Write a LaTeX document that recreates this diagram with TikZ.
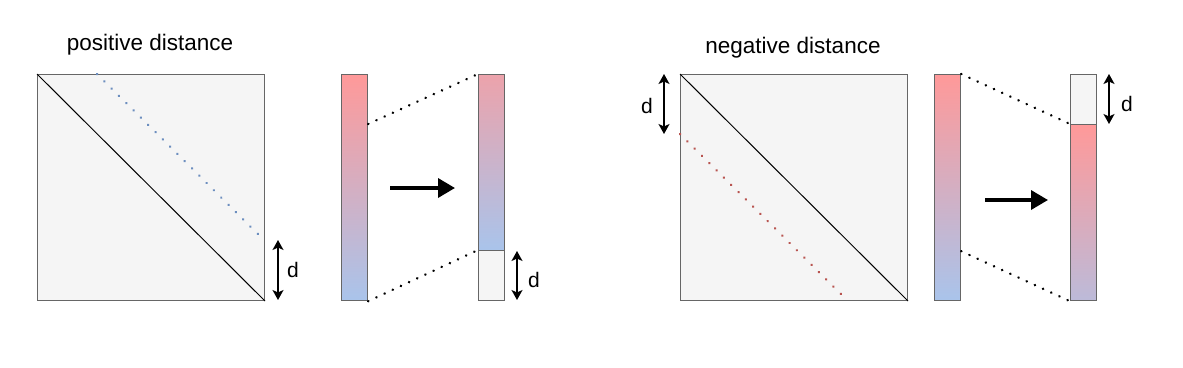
\documentclass[tikz,border=0pt]{standalone}
\usepackage{fontspec}
\setmainfont{Liberation Sans}
\usetikzlibrary{arrows.meta,calc}
\definecolor{boxgray}{HTML}{F5F5F5}
\definecolor{edgegray}{HTML}{666666}
\definecolor{topred}{HTML}{FF9999}
\definecolor{botblue}{HTML}{A9C4EB}
\definecolor{dotblue}{HTML}{6C8EBF}
\definecolor{dotred}{HTML}{B85450}
\begin{document}
\begin{tikzpicture}[x=1pt,y=-1pt,
    label/.style={inner sep=0pt, font=\fontsize{21}{25}\selectfont},
    title/.style={inner sep=0pt, font=\fontsize{22.5}{27}\selectfont},
    matbox/.style={draw=edgegray, line width=1pt, fill=boxgray, anchor=north west, inner sep=0pt, minimum width=227pt, minimum height=226pt},
    barbox/.style={draw=edgegray, line width=1.2pt, anchor=north west, inner sep=0pt, minimum width=26pt, minimum height=#1},
    dotline/.style={line width=2.6pt, line cap=round, dash pattern=on 0.2pt off 8.8pt},
    diagdots/.style={line width=2.6pt, line cap=round, dash pattern=on 0.2pt off 10.1pt, #1},
    darrow/.style={line width=1.4pt, {Stealth[length=10pt,width=11pt,inset=2.5pt]}-{Stealth[length=10pt,width=11pt,inset=2.5pt]}},
    bigarrow/.style={line width=3.5pt, -{Triangle[length=17pt,width=19pt]}}]
    \useasboundingbox (0,0) rectangle (1183,367);

    \node[title] (titlePos) at (150,45) {positive distance};
    \node[matbox] (matPos) at (37,74) {};
    \draw[line width=1pt] (matPos.north west) -- (matPos.south east);
    \draw[diagdots=dotblue] ($(matPos.north west)+(60,0)$) -- ($(matPos.south east)+(0,-60)$);
    \coordinate (dPosTop) at (278,240);
    \coordinate (dPosBot) at (278,300);
    \draw[darrow] (dPosTop) -- (dPosBot);
    \node[label] (dPos) at (293,270) {d};

    \node[barbox=226pt, top color=topred, bottom color=botblue] (barA) at (341,74) {};
    \node[barbox=176pt, top color=topred!78!botblue, bottom color=botblue] (barB) at (478,74) {};
    \node[barbox=50pt, fill=boxgray] (gapB) at (478,250) {};
    \draw[dotline] ($(barA.north east)!0.22!(barA.south east)$) -- (barB.north west);
    \draw[dotline] (barA.south east) -- (gapB.north west);
    \coordinate (arrPosL) at (390,188);
    \coordinate (arrPosR) at (455,188);
    \draw[bigarrow] (arrPosL) -- (arrPosR);
    \coordinate (dBTop) at (517,251);
    \coordinate (dBBot) at (517,300);
    \draw[darrow] (dBTop) -- (dBBot);
    \node[label] (dB) at (534,280) {d};

    \node[title] (titleNeg) at (793,48) {negative distance};
    \node[matbox] (matNeg) at (680,74) {};
    \draw[line width=1pt] (matNeg.north west) -- (matNeg.south east);
    \draw[diagdots=dotred] ($(matNeg.north west)+(0,60)$) -- ($(matNeg.south east)+(-60,0)$);
    \coordinate (dNegTop) at (664,74);
    \coordinate (dNegBot) at (664,134);
    \draw[darrow] (dNegTop) -- (dNegBot);
    \node[label] (dNeg) at (647,106) {d};

    \node[barbox=226pt, top color=topred, bottom color=botblue] (barC) at (934,74) {};
    \node[barbox=50pt, fill=boxgray] (gapD) at (1070,74) {};
    \node[barbox=176pt, top color=topred, bottom color=topred!22!botblue] (barD) at (1070,124) {};
    \draw[dotline] (barC.north east) -- (barD.north west);
    \draw[dotline] ($(barC.north east)!0.78!(barC.south east)$) -- (barD.south west);
    \coordinate (arrNegL) at (985,200);
    \coordinate (arrNegR) at (1048,200);
    \draw[bigarrow] (arrNegL) -- (arrNegR);
    \coordinate (dDTop) at (1109,74);
    \coordinate (dDBot) at (1109,124);
    \draw[darrow] (dDTop) -- (dDBot);
    \node[label] (dD) at (1127,104) {d};
\end{tikzpicture}
\end{document}
